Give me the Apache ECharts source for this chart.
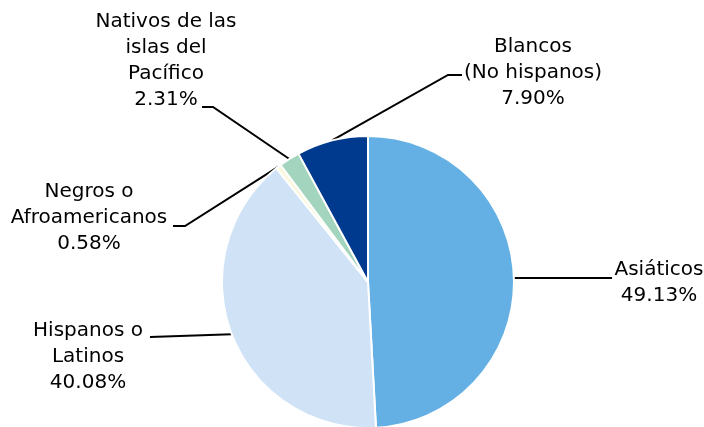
<!DOCTYPE html>
<html>
<head>
<meta charset="utf-8">
<script src="https://cdn.jsdelivr.net/npm/echarts@6/dist/echarts.min.js"></script>
<style>html,body{margin:0;padding:0;background:#fff}#c{width:704px;height:427px}</style>
</head>
<body>
<div id="c"></div>
<script>
const categories = ['Asiáticos', 'Hispanos o\nLatinos', 'Negros o\nAfroamericanos', 'Nativos de las\nislas del\nPacífico', 'Blancos\n(No hispanos)'];
const values = [49.13, 40.08, 0.58, 2.31, 7.90];
const colors = ['#64B0E4', '#CFE2F6', '#FAF8DC', '#A2D4BE', '#003A8E'];
// label block centres and connector elbow/end points (layout only)
const labelPos = [[659, 283], [88, 357], [89, 218], [166, 61], [533, 73]];
const linePts = [
  [[612, 278], [612, 278]],
  [[150, 337], [150, 337]],
  [[185, 226], [173, 226]],
  [[213, 107], [202, 107]],
  [[448, 75], [462, 75]]
];

const chart = echarts.init(document.getElementById('c'));
chart.setOption({
  animation: false,
  series: [{
    type: 'pie',
    center: [368, 282],
    radius: 146,
    startAngle: 90,
    clockwise: true,
    itemStyle: { borderColor: '#fff', borderWidth: 2 },
    label: {
      show: true,
      color: '#000',
      fontFamily: 'DejaVu Sans',
      fontSize: 20,
      lineHeight: 26,
      align: 'center',
      formatter: p => p.name + '\n' + p.value.toFixed(2) + '%'
    },
    labelLine: { show: true, length: 20, length2: 20, lineStyle: { color: '#000', width: 2 } },
    labelLayout: p => ({
      x: labelPos[p.dataIndex][0],
      y: labelPos[p.dataIndex][1],
      align: 'center',
      verticalAlign: 'middle',
      labelLinePoints: [p.labelLinePoints[0], linePts[p.dataIndex][0], linePts[p.dataIndex][1]]
    }),
    data: categories.map((c, i) => ({ name: c, value: values[i], itemStyle: { color: colors[i] } }))
  }]
});
</script>
</body>
</html>
